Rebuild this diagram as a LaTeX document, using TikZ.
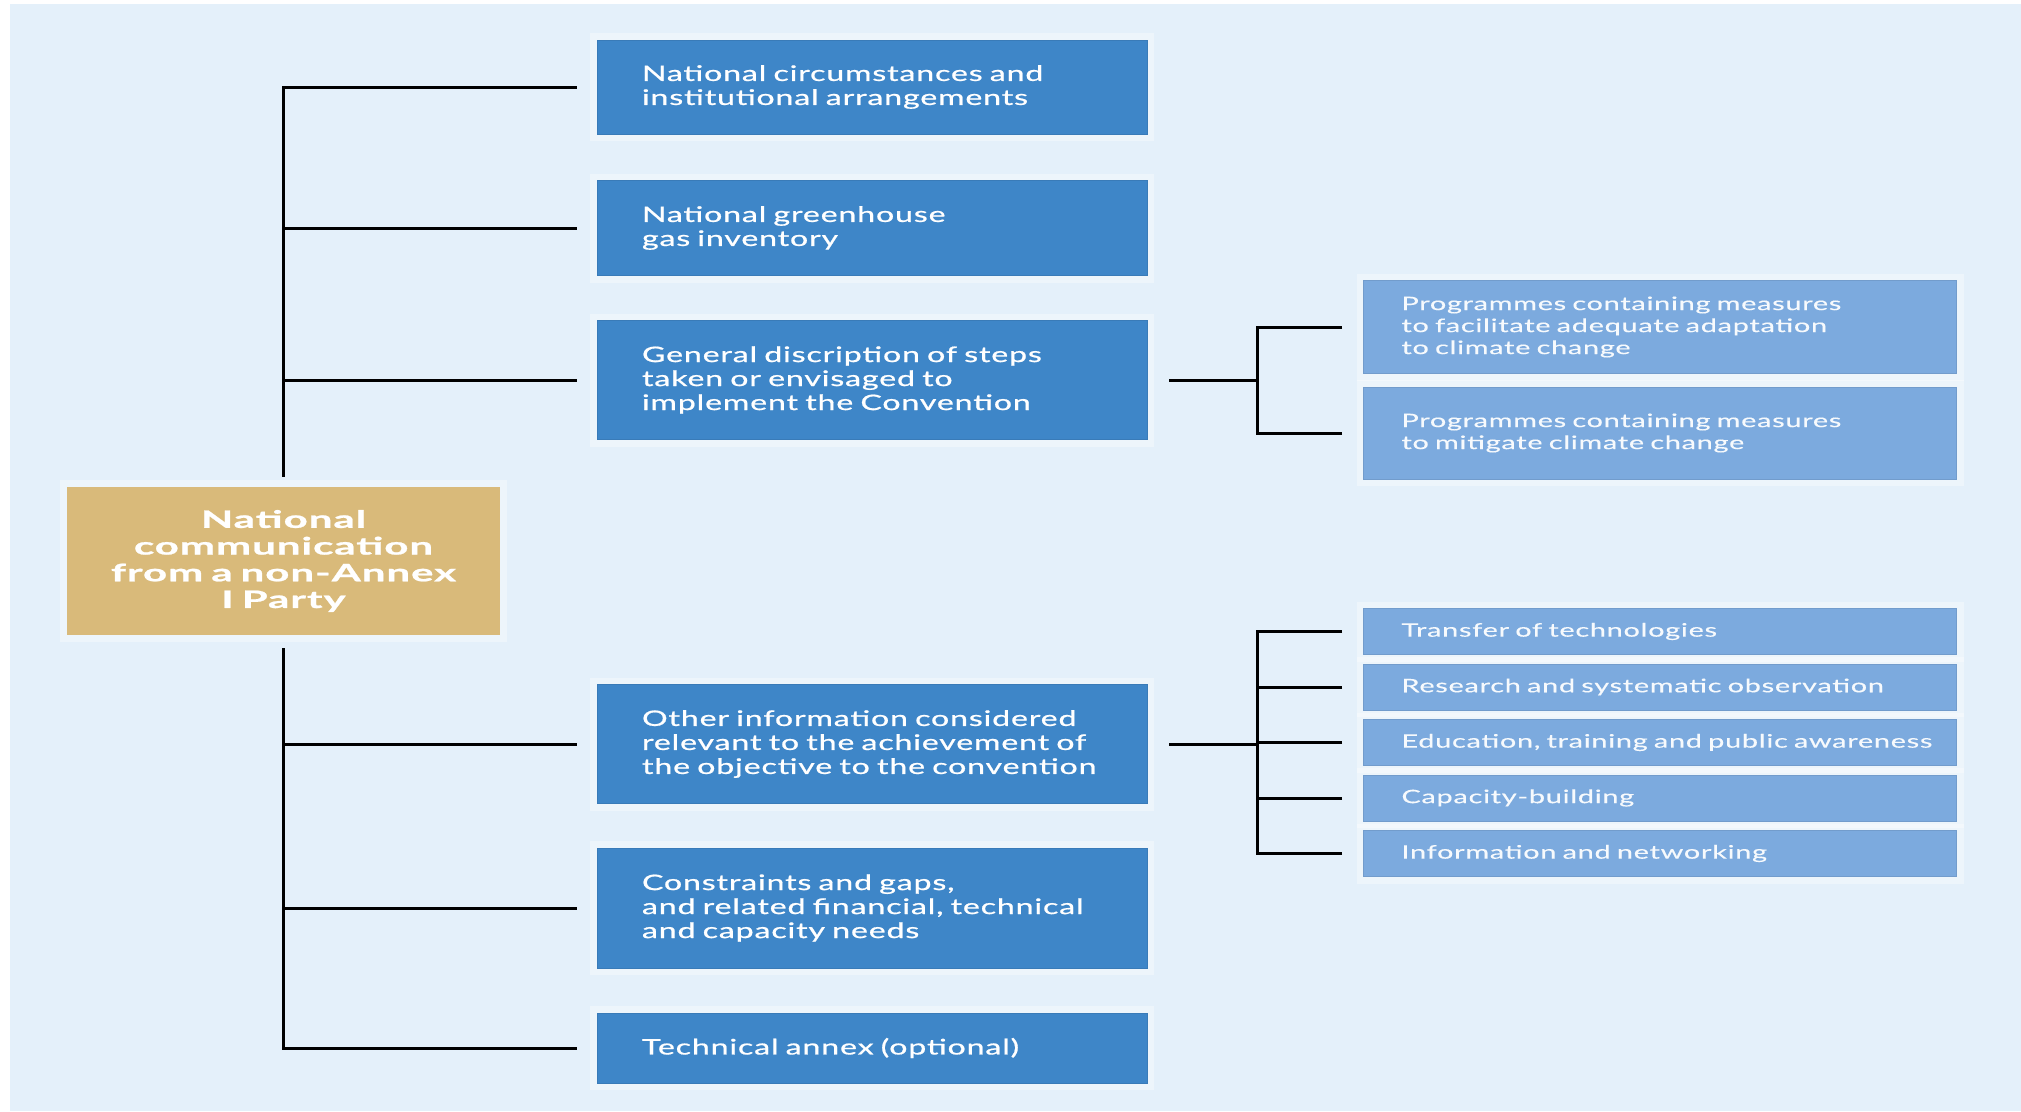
\documentclass[tikz,border=0pt]{standalone}
\usepackage{fontspec}
\setmainfont{Lato}
\newfontfamily\mainfnt{Lato}[FakeStretch=1.5,LetterSpace=4,FakeBold=0.8]
\newfontfamily\subfnt{Lato}[FakeStretch=1.55,LetterSpace=4,FakeBold=0.3]
\newfontfamily\rootfnt{Lato Bold}[FakeStretch=1.75,LetterSpace=4,FakeBold=1]
\usetikzlibrary{calc}
\definecolor{bg}{HTML}{E4F0FA}
\definecolor{dblue}{HTML}{3E86C8}
\definecolor{lblue}{HTML}{7CAADE}
\definecolor{tanbox}{HTML}{D9BA7A}
\begin{document}
\begin{tikzpicture}[x=1pt,y=-1pt,
  halo/.style={preaction={draw=white,line width=14pt,draw opacity=0.35}},
  mainbox/.style={halo,fill=dblue,draw=dblue!92!black,line width=0.8pt,text=white,
    text width=460pt,inner xsep=45pt,inner ysep=0pt,align=left,
    font=\mainfnt\fontsize{21.4}{24}\selectfont},
  subbox/.style={halo,fill=lblue,draw=lblue!92!black,line width=0.8pt,text=white!94!lblue,
    text width=517pt,inner xsep=38pt,inner ysep=0pt,align=left,
    font=\subfnt\fontsize{18.6}{22}\selectfont},
  rootbox/.style={halo,fill=tanbox,text=white,minimum height=148pt,
    text width=413pt,inner xsep=10pt,align=center,
    font=\rootfnt\fontsize{24}{26.7}\selectfont},
  conn/.style={draw=black,line width=3pt}
]
\useasboundingbox (0,0) rectangle (2021,1111);
\fill[white] (0,0) rectangle (2021,1111);
\fill[bg] (10,4) rectangle (2021,1111);

\node[rootbox] (root) at (283.5,561) {National\\communication\\\mbox{from a non-Annex}\\I Party};

\node[mainbox,minimum height=94pt] (b1) at (872,87) {National circumstances and\\institutional arrangements};
\node[mainbox,minimum height=95pt] (b2) at (872,228) {National greenhouse\\gas inventory};
\node[mainbox,minimum height=119pt] (b3) at (872,380) {General discription of steps\\taken or envisaged to\\implement the Convention};
\node[mainbox,minimum height=119pt] (b4) at (872,744) {Other information considered\\relevant to the achievement of\\the objective to the convention};
\node[mainbox,minimum height=120pt] (b5) at (872,908) {Constraints and gaps,\\and related financial, technical\\and capacity needs};
\node[mainbox,minimum height=70pt] (b6) at (872,1048) {Technical annex (optional)};

\node[subbox,minimum height=93pt] (r1) at (1660,327) {Programmes containing measures\\\mbox{to facilitate adequate adaptation}\\to climate change};
\node[subbox,minimum height=92pt] (r2) at (1660,433) {Programmes containing measures\\to mitigate climate change};

\node[subbox,minimum height=46pt] (s1) at (1660,631.5) {Transfer of technologies};
\node[subbox,minimum height=46pt] (s2) at (1660,687) {\mbox{Research and systematic observation}};
\node[subbox,minimum height=46pt] (s3) at (1660,742.5) {\mbox{Education, training and public awareness}};
\node[subbox,minimum height=46pt] (s4) at (1660,798) {Capacity-building};
\node[subbox,minimum height=46pt] (s5) at (1660,853.5) {Information and networking};

% main trunk
\draw[conn,shorten >=10pt] ([xshift=-20pt]b1.west) -| (root.north);
\draw[conn] ([xshift=-20pt]b2.west) -- (root.north |- b2.west);
\draw[conn] ([xshift=-20pt]b3.west) -- (root.north |- b3.west);
\draw[conn,shorten >=13pt] ([xshift=-20pt]b6.west) -| (root.south);
\draw[conn] ([xshift=-20pt]b4.west) -- (root.south |- b4.west);
\draw[conn] ([xshift=-20pt]b5.west) -- (root.south |- b5.west);

% branch from b3
\coordinate (j1) at ($(b3.east)+(110,0)$);
\draw[conn] ([xshift=22pt]b3.east) -- (j1);
\draw[conn] ([xshift=-21pt]r1.west) -| (j1);
\draw[conn] ([xshift=-21pt]r2.west) -| (j1);

% branch from b4
\coordinate (j2) at ($(b4.east)+(110,0)$);
\draw[conn] ([xshift=22pt]b4.east) -- (j2);
\draw[conn] ([xshift=-21pt]s1.west) -| (j2);
\draw[conn] ([xshift=-21pt]s2.west) -| (j2);
\draw[conn] ([xshift=-21pt]s3.west) -| (j2);
\draw[conn] ([xshift=-21pt]s4.west) -| (j2);
\draw[conn] ([xshift=-21pt]s5.west) -| (j2);
\end{tikzpicture}
\end{document}
